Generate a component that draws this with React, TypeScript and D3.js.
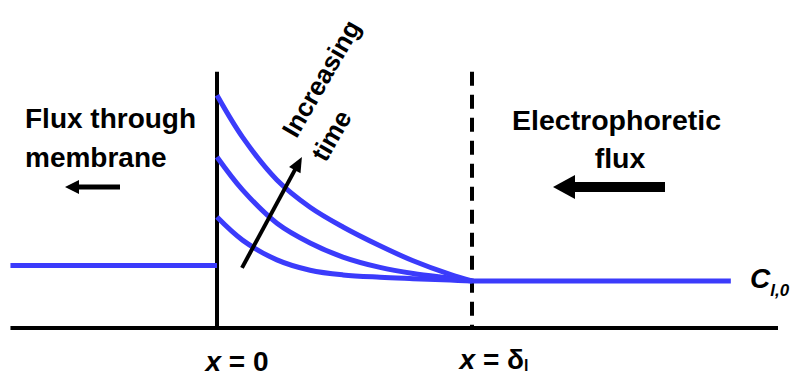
import React, { useEffect, useRef } from 'react';
import * as d3 from 'd3';

// distance from membrane, in units of the layer thickness (x = δl is 1)
const positions = [0, 0.1, 0.235, 0.365, 0.494, 0.639, 0.769, 0.914, 1];
// concentration relative to C_l,0 at three times
const earlyProfile = [2.36, 1.87, 1.45, 1.23, 1.13, 1.08, 1.05, 1.02, 1];
const middleProfile = [3.64, 2.94, 2.23, 1.81, 1.51, 1.29, 1.16, 1.06, 1];
const lateProfile = [4.95, 4.06, 3.15, 2.57, 2.15, 1.75, 1.43, 1.14, 1];

const membraneLevel = 1.33;
const bulkLevel = 1;
const leftEdge = -0.81;
const bulkEnd = 2.015;
const axisEnd = 2.2;
const wallTop = 5.45;

const BLUE = '#3b3bfb';
const FONT = '"Liberation Sans", Arial, sans-serif';

export default function App() {
  const ref = useRef<SVGSVGElement>(null);

  useEffect(() => {
    const width = 794;
    const height = 377;
    const svg = d3.select(ref.current);
    svg.selectAll('*').remove();
    svg.attr('width', width).attr('height', height);

    const x = d3.scaleLinear().domain([0, 1]).range([217, 472]);
    const y = d3.scaleLinear().domain([0, 1]).range([328, 281]);

    const g = svg.append('g');

    const arrow = (x1, y1, x2, y2, w, headLen, headW) => {
      const ang = Math.atan2(y2 - y1, x2 - x1);
      const bx = x2 - headLen * Math.cos(ang);
      const by = y2 - headLen * Math.sin(ang);
      g.append('line')
        .attr('x1', x1).attr('y1', y1)
        .attr('x2', bx + Math.cos(ang) * 2).attr('y2', by + Math.sin(ang) * 2)
        .attr('stroke', 'black').attr('stroke-width', w);
      const px = -Math.sin(ang) * headW / 2;
      const py = Math.cos(ang) * headW / 2;
      g.append('polygon')
        .attr('points', `${x2},${y2} ${bx + px},${by + py} ${bx - px},${by - py}`)
        .attr('fill', 'black');
    };

    // bottom axis
    g.append('line')
      .attr('x1', x(leftEdge)).attr('x2', x(axisEnd))
      .attr('y1', y(0)).attr('y2', y(0))
      .attr('stroke', 'black').attr('stroke-width', 4);

    // membrane
    g.append('line')
      .attr('x1', x(0)).attr('x2', x(0))
      .attr('y1', y(0)).attr('y2', y(wallTop))
      .attr('stroke', 'black').attr('stroke-width', 4);

    // edge of boundary layer
    g.append('line')
      .attr('x1', x(1)).attr('x2', x(1))
      .attr('y1', y(wallTop)).attr('y2', y(0))
      .attr('stroke', 'black').attr('stroke-width', 4)
      .attr('stroke-dasharray', '14,9');

    // permeate side and bulk concentration
    g.append('line')
      .attr('x1', x(leftEdge)).attr('x2', x(0))
      .attr('y1', y(membraneLevel)).attr('y2', y(membraneLevel))
      .attr('stroke', BLUE).attr('stroke-width', 5);
    g.append('line')
      .attr('x1', x(1)).attr('x2', x(bulkEnd))
      .attr('y1', y(bulkLevel)).attr('y2', y(bulkLevel))
      .attr('stroke', BLUE).attr('stroke-width', 5);

    const line = d3.line<number>()
      .x((d, i) => x(positions[i]))
      .y(d => y(d))
      .curve(d3.curveCatmullRom.alpha(0.5));

    [earlyProfile, middleProfile, lateProfile].forEach(p => {
      g.append('path')
        .attr('d', line(p))
        .attr('fill', 'none')
        .attr('stroke', BLUE)
        .attr('stroke-width', 5);
    });

    // increasing time arrow
    arrow(x(0.098), y(1.28), x(0.333), y(3.64), 4, 15, 13);

    const txt = (s, tx, ty, size = 28, anchor = 'start') =>
      g.append('text')
        .attr('x', tx).attr('y', ty)
        .attr('font-family', FONT)
        .attr('font-weight', 'bold')
        .attr('font-size', size)
        .attr('text-anchor', anchor)
        .attr('fill', 'black')
        .text(s);

    txt('Flux through', 25, 128);
    txt('membrane', 25, 167);
    arrow(120, 187, 65, 187, 5, 14, 14);

    txt('Electrophoretic', 512, 130, 28.5);
    txt('flux', 620, 168, 28.5, 'middle');
    arrow(665, 187, 553, 187, 10, 22, 24);

    txt('Increasing', 0, 0, 26, 'middle')
      .attr('transform', 'translate(329,83) rotate(-60)');
    txt('time', 0, 0, 26, 'middle')
      .attr('transform', 'translate(339,140) rotate(-60)');

    // x labels
    const l0 = txt('', x(0) + 20, 371, 28, 'middle');
    l0.append('tspan').attr('font-style', 'italic').text('x');
    l0.append('tspan').text(' = 0');

    const l1 = txt('', x(1) + 22, 369, 28, 'middle');
    l1.append('tspan').attr('font-style', 'italic').text('x');
    l1.append('tspan').text(' = δ');
    l1.append('tspan').attr('font-size', 16).attr('dy', 2).text('l');

    const c = txt('', 750, 288, 28);
    c.append('tspan').attr('font-style', 'italic').text('C');
    c.append('tspan').attr('font-style', 'italic').attr('font-size', 17).attr('dy', 8).text('l,0');
  }, []);

  return (
    <div style={{ position: 'absolute', left: 0, top: 0 }}>
      <svg ref={ref} style={{ display: 'block' }}></svg>
    </div>
  );
}
